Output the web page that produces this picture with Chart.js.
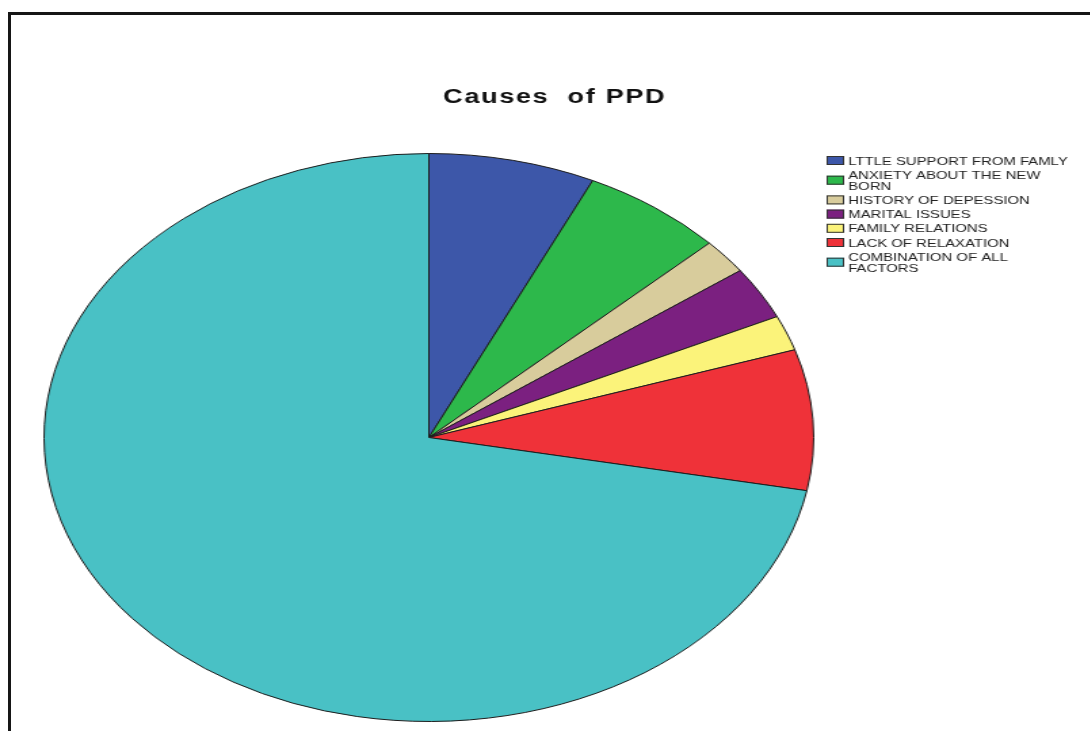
<!DOCTYPE html>
<html>
<head>
<meta charset="utf-8">
<script src="https://cdn.jsdelivr.net/npm/chart.js@4/dist/chart.umd.min.js"></script>
<style>
  html, body { margin:0; padding:0; background:#fff; overflow:hidden; }
  #wrap { position:absolute; left:0; top:0; width:805px; height:731px; transform:scaleX(1.355); transform-origin:0 0; }
  #frame { position:absolute; left:8px; top:12px; width:1200px; height:900px; border-left:3px solid #161616; border-top:3px solid #161616; pointer-events:none; }
</style>
</head>
<body>
<div id="wrap"><canvas id="pie"></canvas></div>
<div id="frame"></div>
<script>
/* Causes of PPD - SPSS style pie, stretched horizontally like the source picture */
const chartTitle = 'Causes  of PPD';
const categories = [
  ['LTTLE SUPPORT FROM FAMLY'],
  ['ANXIETY ABOUT THE NEW', 'BORN'],
  ['HISTORY OF DEPESSION'],
  ['MARITAL ISSUES'],
  ['FAMILY RELATIONS'],
  ['LACK OF RELAXATION'],
  ['COMBINATION OF ALL', 'FACTORS']
];
const counts = [7, 6, 2, 3, 2, 8, 72];
const colors = ['#3d57a9', '#2db84b', '#d8cc9c', '#7b2080', '#fbf37a', '#ef3239', '#49c1c5'];

const FONT = "'Liberation Sans', Arial, sans-serif";

// title + legend drawn by hand, SPSS legend has wrapped labels
const decor = {
  id: 'decor',
  afterDraw(chart){
    const ctx = chart.ctx;
    ctx.save();
    ctx.fillStyle = '#111';
    ctx.font = 'bold 20px ' + FONT;
    ctx.letterSpacing = '1.2px';
    ctx.textAlign = 'left';
    ctx.textBaseline = 'alphabetic';
    ctx.fillText(chartTitle, 327, 103);

    ctx.letterSpacing = '0px';
    ctx.font = '11px ' + FONT;
    const boxX = 610, boxW = 13, boxH = 9, textX = 626, lineH = 11, gap = 3.2;
    let y = 156;
    chart.data.labels.forEach((lines, i) => {
      const h = lines.length * lineH;
      const mid = y + h/2 - 1;
      ctx.fillStyle = chart.data.datasets[0].backgroundColor[i];
      ctx.fillRect(boxX, mid - boxH/2, boxW, boxH);
      ctx.strokeStyle = '#333';
      ctx.lineWidth = 1;
      ctx.strokeRect(boxX + 0.5, mid - boxH/2 + 0.5, boxW - 1, boxH - 1);
      ctx.fillStyle = '#222';
      lines.forEach((t, k) => ctx.fillText(t, textX, y + 8.6 + k*lineH));
      y += h + gap;
    });
    ctx.restore();
  }
};

new Chart(document.getElementById('pie'), {
  type: 'pie',
  data: {
    labels: categories,
    datasets: [{
      data: counts,
      backgroundColor: colors,
      borderColor: '#1c1c1c',
      borderWidth: 1
    }]
  },
  options: {
    responsive: true,
    maintainAspectRatio: false,
    animation: false,
    layout: { padding: { top: 153, bottom: 9, left: 32, right: 204 } },
    plugins: {
      legend: { display: false },
      title: { display: false },
      tooltip: { enabled: false }
    }
  },
  plugins: [decor]
});
</script>
</body>
</html>
